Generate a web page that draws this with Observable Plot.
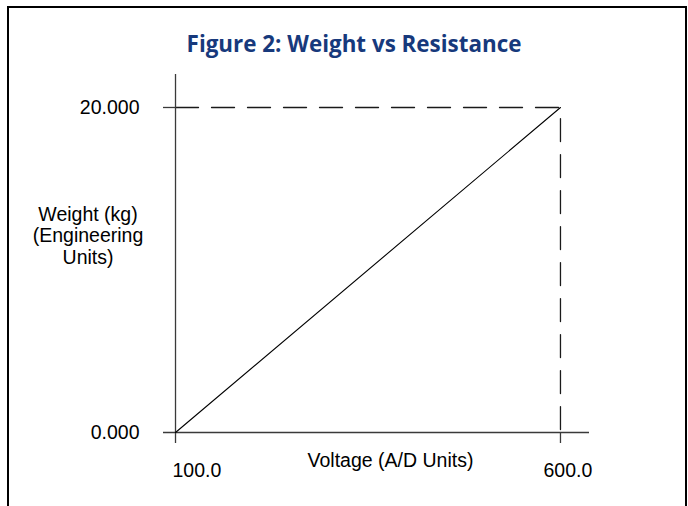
<!DOCTYPE html>
<html>
<head>
<meta charset="utf-8">
<script src="https://cdn.jsdelivr.net/npm/d3@7"></script>
<script src="https://cdn.jsdelivr.net/npm/@observablehq/plot@0.6"></script>
<style>
  html, body { margin: 0; padding: 0; background: #fff; overflow: hidden; }
  #wrap { position: relative; width: 688px; height: 506px; overflow: hidden; }
  #border { position: absolute; left: 7px; top: 6px; width: 676px; height: 600px; border: 2px solid #000; box-sizing: content-box; }
  #title { position: absolute; left: 0; top: 33px; width: 708px; text-align: center; font-family: "Open Sans", sans-serif; font-weight: 700; font-size: 22.4px; color: #17397c; line-height: 1; white-space: nowrap; }
  #chart { position: absolute; left: 0; top: 0; }
</style>
</head>
<body>
<div id="wrap">
  <div id="border"></div>
  <div id="title">Figure 2: Weight vs Resistance</div>
  <div id="chart"></div>
</div>
<script>
// ---- data ----
const xTicks = [100, 600];
const xTickLabels = ["100.0", "600.0"];
const yTicks = [0, 20];
const yTickLabels = ["0.000", "20.000"];
const voltage = [100, 600];   // A/D units
const weight = [0, 20];       // kg
const xTitle = "Voltage (A/D Units)";
const yTitle = ["Weight (kg)", "(Engineering", "Units)"];

// ---- derived tables ----
const linePts = voltage.map((v, i) => ({x: v, y: weight[i]}));
const guidePts = [
  {x: xTicks[0], y: yTicks[1]},
  {x: xTicks[1], y: yTicks[1]},
  {x: xTicks[1], y: yTicks[0]}
];
const xDomain = [84.4, 637.7];
const yDomain = [-0.677, 22.03];
const axisColor = "#3a3a3a";
const fs = 19.5;

const chart = Plot.plot({
  width: 688,
  height: 506,
  marginLeft: 163,
  marginRight: 99,
  marginTop: 74,
  marginBottom: 63,
  style: {fontFamily: "'Liberation Sans', Arial, sans-serif", fontSize: fs + "px", background: "transparent", color: "#000"},
  x: {domain: xDomain, axis: null},
  y: {domain: yDomain, axis: null},
  marks: [
    // dashed guide lines
    Plot.line(guidePts, {x: "x", y: "y", stroke: "#1a1a1a", strokeWidth: 1.3, strokeDasharray: "23,13"}),
    // axes lines
    Plot.ruleY([yTicks[0]], {stroke: axisColor, strokeWidth: 1.3}),
    Plot.ruleX([xTicks[0]], {stroke: axisColor, strokeWidth: 1.3}),
    // ticks
    Plot.ruleY([yTicks[1]], {x1: xDomain[0], x2: xTicks[0], stroke: axisColor, strokeWidth: 1.3}),
    Plot.ruleX([xTicks[1]], {y1: yDomain[0], y2: yTicks[0], stroke: axisColor, strokeWidth: 1.3}),
    // data line
    Plot.line(linePts, {x: "x", y: "y", stroke: "#000", strokeWidth: 1.1}),
    // y tick labels
    Plot.text(yTicks, {x: xTicks[0], y: d => d, text: (d, i) => yTickLabels[i], textAnchor: "end", dx: -36, fontSize: fs}),
    // x tick labels
    Plot.text([xTicks[0]], {x: d => d, y: yTicks[0], text: () => xTickLabels[0], textAnchor: "start", dx: -3, dy: 38, fontSize: fs}),
    Plot.text([xTicks[1]], {x: d => d, y: yTicks[0], text: () => xTickLabels[1], textAnchor: "start", dx: -17, dy: 38, fontSize: fs}),
    // axis titles
    Plot.text([xTitle], {frameAnchor: "bottom", text: d => d, dx: 14, dy: 23, fontSize: fs}),
    Plot.text([yTitle.join("\n")], {frameAnchor: "left", text: d => d, textAnchor: "middle", lineAnchor: "middle", lineHeight: 1.1, dx: -75.5, dy: -23.5, fontSize: fs})
  ]
});
document.getElementById("chart").appendChild(chart);
</script>
</body>
</html>
